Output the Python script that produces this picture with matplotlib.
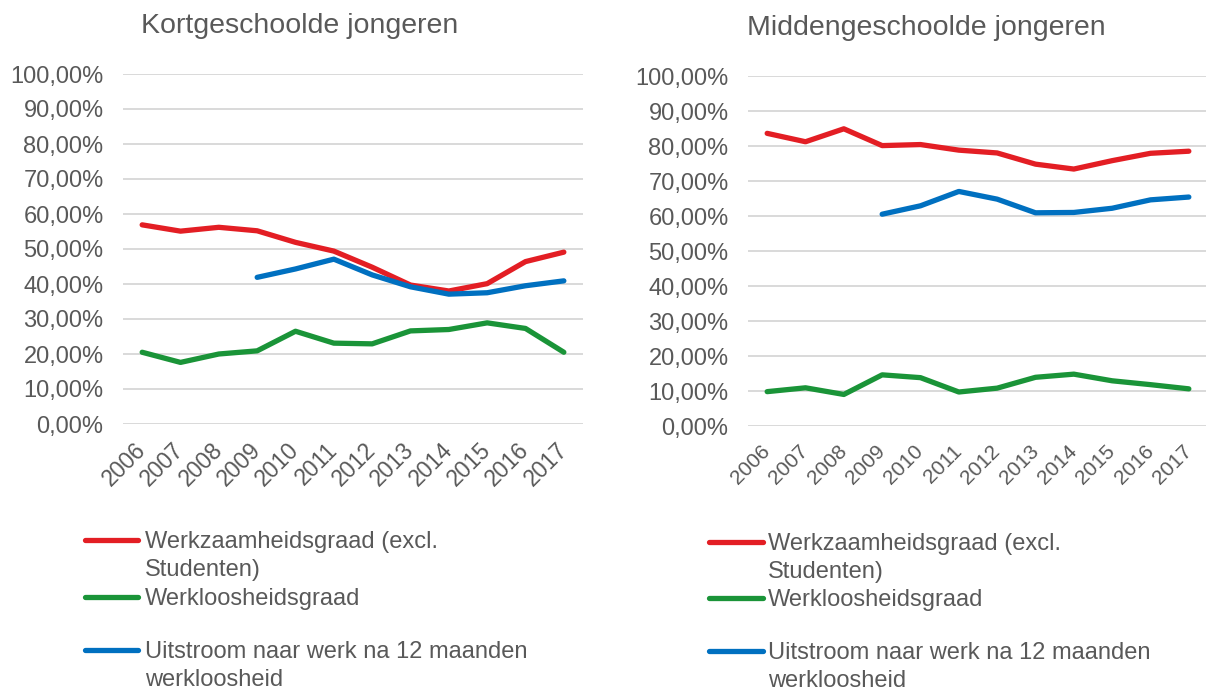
import numpy as np
import matplotlib
matplotlib.use("Agg")
import matplotlib.pyplot as plt
from matplotlib.lines import Line2D

# =====================================================
# DATA
# =====================================================

years = ["2006", "2007", "2008", "2009", "2010", "2011",
         "2012", "2013", "2014", "2015", "2016", "2017"]

# Kortgeschoolde jongeren (%)
kort_werkzaam = [56.9, 55.1, 56.2, 55.2, 51.9, 49.4,
                 44.8, 39.7, 38.0, 40.1, 46.4, 49.1]
kort_werkloos = [20.5, 17.6, 20.0, 20.9, 26.5, 23.1,
                 22.9, 26.6, 27.0, 28.9, 27.3, 20.5]
kort_uitstroom = [np.nan, np.nan, np.nan, 41.9, 44.3, 47.1,
                  42.6, 39.2, 37.1, 37.5, 39.5, 40.9]

# Middengeschoolde jongeren (%)
midden_werkzaam = [83.7, 81.3, 85.0, 80.2, 80.5, 78.9,
                   78.1, 74.9, 73.5, 75.9, 78.0, 78.6]
midden_werkloos = [9.9, 11.0, 9.1, 14.7, 13.9, 9.8,
                   10.9, 14.0, 14.9, 13.0, 11.9, 10.7]
midden_uitstroom = [np.nan, np.nan, np.nan, 60.6, 63.0, 67.1,
                    64.9, 61.0, 61.1, 62.3, 64.7, 65.5]

titles = ["Kortgeschoolde jongeren", "Middengeschoolde jongeren"]

labels = ["Werkzaamheidsgraad (excl.\nStudenten)",
          "Werkloosheidsgraad",
          "Uitstroom naar werk na 12 maanden\nwerkloosheid"]

colors = ["#E31E24", "#1A9438", "#0070C0"]

y_ticks = [0, 10, 20, 30, 40, 50, 60, 70, 80, 90, 100]

# =====================================================
# STYLE
# =====================================================

TXT = "#595959"
GRID = "#D9D9D9"
W, H = 1206, 689

plt.rcParams["font.family"] = ["Liberation Sans", "DejaVu Sans"]

fig = plt.figure(figsize=(W / 100, H / 100), dpi=100)


def px(x, y):
    return x / W, 1 - y / H


# axes rectangles in pixels: left, top, right, bottom
boxes = [(123, 74, 583, 424), (748, 76.3, 1208, 426.3)]
title_pos = [(300, 26), (926, 28)]
xtick_size = [16.5, 15]
legend_x = [(85, 138, 145), (709, 763, 768)]
legend_y = [(540, 597, 650), (542, 598, 651)]

series = [
    [kort_werkzaam, kort_werkloos, kort_uitstroom],
    [midden_werkzaam, midden_werkloos, midden_uitstroom],
]

x = np.arange(len(years))

for i in range(2):

    l, t, r, b = boxes[i]
    ax = fig.add_axes([l / W, 1 - b / H, (r - l) / W, (b - t) / H])

    for vals, col in zip(series[i], colors):
        ax.plot(
            x,
            vals,
            color=col,
            lw=3.8,
            solid_capstyle="round",
            solid_joinstyle="round",
            zorder=3
        )

    ax.set_xlim(-0.5, len(years) - 0.5)
    ax.set_ylim(0, 100)

    ax.set_yticks(y_ticks)
    ax.set_yticklabels(
        [f"{v:.2f}%".replace(".", ",") for v in y_ticks],
        fontsize=17,
        color=TXT
    )

    ax.set_xticks(x)
    ax.set_xticklabels(
        years,
        rotation=45,
        ha="right",
        va="center",
        rotation_mode="anchor",
        fontsize=xtick_size[i],
        color=TXT
    )

    ax.tick_params(axis="y", length=0, pad=14)
    ax.tick_params(axis="x", length=0, pad=16)

    ax.yaxis.grid(True, color=GRID, lw=1.4)
    ax.set_axisbelow(True)

    for s in ax.spines.values():
        s.set_visible(False)

    # title
    tx, ty = title_pos[i]
    fig.text(*px(tx, ty), titles[i], ha="center", va="center",
             fontsize=20.5, color=TXT)

    # legend (Excel style, handle aligned with first line)
    x0, x1, xt = legend_x[i]
    for lab, col, yy in zip(labels, colors, legend_y[i]):
        fig.add_artist(Line2D(
            [x0 / W, x1 / W],
            [1 - yy / H, 1 - yy / H],
            color=col,
            lw=3.8,
            solid_capstyle="round",
            transform=fig.transFigure
        ))
        fig.text(*px(xt, yy - 9), lab, ha="left", va="top",
                 fontsize=17, color=TXT, linespacing=1.33)

fig.savefig("out.png", dpi=100)
